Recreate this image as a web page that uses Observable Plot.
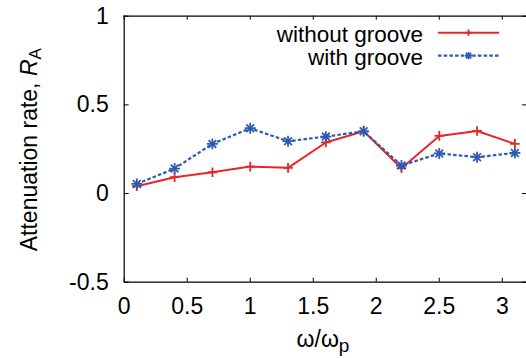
<!DOCTYPE html>
<html><head><meta charset="utf-8">
<script src="https://cdn.jsdelivr.net/npm/d3@7"></script>
<script src="https://cdn.jsdelivr.net/npm/@observablehq/plot@0.6"></script>
<style>html,body{margin:0;padding:0;overflow:hidden;background:#fff}</style>
</head><body><div id="chart"></div>
<script>
const freq = [0.1, 0.4, 0.7, 1.0, 1.3, 1.6, 1.9, 2.2, 2.5, 2.8, 3.1];
const withoutGroove = [0.041, 0.092, 0.120, 0.152, 0.145, 0.288, 0.351, 0.143, 0.325, 0.353, 0.280];
const withGroove = [0.054, 0.141, 0.280, 0.368, 0.295, 0.321, 0.351, 0.158, 0.226, 0.205, 0.229];
const xTicks = [0, 0.5, 1, 1.5, 2, 2.5, 3];
const yTicks = [-0.5, 0, 0.5, 1];
const xDomain = [0, 3.2];
const yDomain = [-0.5, 1];
const seriesNames = ["without groove", "with groove"];
const colors = ["#e8262a", "#2b5ab4"];

const W = 526, H = 358;
const mL = 123.7, mT = 15.7, mB = 76.3;
const font = "'Liberation Sans', Arial, sans-serif";

const red = freq.map((f, i) => ({x: f, y: withoutGroove[i]}));
const blue = freq.map((f, i) => ({x: f, y: withGroove[i]}));

const plot = Plot.plot({
  width: W, height: H,
  marginLeft: mL, marginTop: mT, marginBottom: mB, marginRight: 0,
  style: {fontFamily: font, fontSize: "23px", background: "#fff", overflow: "hidden"},
  x: {domain: xDomain, range: [mL, 527], axis: null},
  y: {domain: yDomain, axis: null},
  marks: [
    // tick labels
    Plot.axisX(xTicks, {anchor: "bottom", tickSize: 0, tickPadding: 15, tickFormat: d => String(d), label: null, fontSize: 23, fill: "#000"}),
    Plot.axisY(yTicks, {anchor: "left", tickSize: 0, tickPadding: 15.5, tickFormat: d => String(d), label: null, fontSize: 23, fill: "#000"}),
    // inward ticks
    Plot.ruleX(xTicks, {x: d => d, y1: yDomain[0], y2: yDomain[0], insetTop: -4, stroke: "#000", strokeWidth: 1}),
    Plot.ruleX(xTicks, {x: d => d, y1: yDomain[1], y2: yDomain[1], insetBottom: -4, stroke: "#000", strokeWidth: 1}),
    Plot.ruleY(yTicks, {y: d => d, x1: xDomain[0], x2: xDomain[0], insetRight: -5, stroke: "#000", strokeWidth: 1}),
    Plot.ruleY(yTicks, {y: d => d, x1: xDomain[1], x2: xDomain[1], insetLeft: -5, stroke: "#000", strokeWidth: 1}),
    // data
    Plot.line(red, {x: "x", y: "y", stroke: colors[0], strokeWidth: 2, strokeLinecap: "butt", strokeLinejoin: "miter"}),
    Plot.dot(red, {x: "x", y: "y", symbol: "plus", r: 3.2, stroke: colors[0], strokeWidth: 1.8}),
    Plot.line(blue, {x: "x", y: "y", stroke: colors[1], strokeWidth: 2.2, strokeDasharray: "3.5,2.2", strokeLinecap: "butt", strokeLinejoin: "miter"}),
    Plot.dot(blue, {x: "x", y: "y", symbol: "plus", r: 3.6, stroke: colors[1], strokeWidth: 1.8}),
    Plot.dot(blue, {x: "x", y: "y", symbol: "times", r: 3.6, stroke: colors[1], strokeWidth: 1.8}),
    // frame
    Plot.ruleY([yDomain[0], yDomain[1]], {y: d => d, x1: xDomain[0], x2: xDomain[1], stroke: "#000", strokeWidth: 1.2}),
    Plot.ruleX([xDomain[0], xDomain[1]], {x: d => d, y1: yDomain[0], y2: yDomain[1], stroke: "#000", strokeWidth: 1.2})
  ]
});
document.getElementById("chart").appendChild(plot);

const svg = d3.select(plot);
// Y axis label with italic R and subscript A
const yl = svg.append("text")
  .attr("transform", `translate(31,${(mT + H - mB) / 2 + 1}) rotate(-90)`)
  .attr("text-anchor", "middle").attr("dominant-baseline", "middle")
  .attr("font-family", font).attr("font-size", 23).attr("fill", "#000");
yl.append("tspan").text("Attenuation rate, ");
yl.append("tspan").attr("font-style", "italic").text("R");
yl.append("tspan").attr("font-size", 17).attr("dy", 6).text("A");

// X axis label ω/ω_p
const xl = svg.append("text")
  .attr("x", 323).attr("y", 346.7)
  .attr("text-anchor", "middle")
  .attr("font-family", font).attr("font-size", 23).attr("fill", "#000");
xl.append("tspan").text("ω/ω");
xl.append("tspan").attr("font-size", 19).attr("dy", 5.5).text("p");

// Legend
const legendRows = [
  {name: seriesNames[0], color: colors[0], dash: null, star: false, width: 2},
  {name: seriesNames[1], color: colors[1], dash: "3.5,2.2", star: true, width: 2.2}
];
legendRows.forEach((r, i) => {
  const cy = 32.7 + i * 23;
  svg.append("text").attr("x", 423).attr("y", cy + 9.3).attr("text-anchor", "end")
    .attr("font-family", font).attr("font-size", 22.5).attr("fill", "#000").text(r.name);
  svg.append("line").attr("x1", 438).attr("x2", 499).attr("y1", cy).attr("y2", cy)
    .attr("stroke", r.color).attr("stroke-width", r.width).attr("stroke-dasharray", r.dash);
  const s = r.star ? 3.6 : 3.2;
  const g = svg.append("g").attr("stroke", r.color).attr("stroke-width", 1.8);
  g.append("line").attr("x1", 468.5 - s).attr("x2", 468.5 + s).attr("y1", cy).attr("y2", cy);
  g.append("line").attr("x1", 468.5).attr("x2", 468.5).attr("y1", cy - s).attr("y2", cy + s);
  if (r.star) {
    const t = s * 0.75;
    g.append("line").attr("x1", 468.5 - t).attr("x2", 468.5 + t).attr("y1", cy - t).attr("y2", cy + t);
    g.append("line").attr("x1", 468.5 - t).attr("x2", 468.5 + t).attr("y1", cy + t).attr("y2", cy - t);
  }
});
</script>
</body></html>
